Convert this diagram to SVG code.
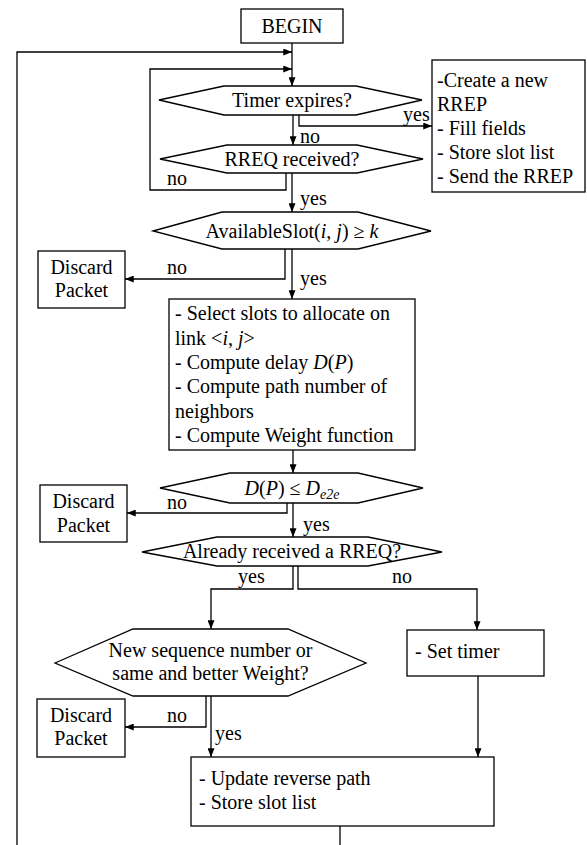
<svg xmlns="http://www.w3.org/2000/svg" width="587" height="845" viewBox="0 0 587 845">
<style>
.n{fill:#fff;stroke:#000;stroke-width:1.3}
.c{fill:none;stroke:#000;stroke-width:1.3}
text{font-family:"Liberation Serif","Times New Roman",serif;font-size:20px;fill:#000}
.m{text-anchor:middle}
.i{font-style:italic}
</style>
<defs>
<marker id="ah" viewBox="0 0 10 8" refX="10" refY="4" markerWidth="9" markerHeight="7" markerUnits="userSpaceOnUse" orient="auto"><path d="M0,0 L10,4 L0,8 z" fill="#000"/></marker>
</defs>
<rect width="587" height="845" fill="#fff"/>
<g id="connectors">
<path class="c" d="M292,43 V86" marker-end="url(#ah)"/>
<path class="c" d="M17,845 V52 H292" marker-end="url(#ah)"/>
<path class="c" d="M286,173 V190 H150 V69 H292" marker-end="url(#ah)"/>
<path class="c" d="M293,115 V145" marker-end="url(#ah)"/>
<path class="c" d="M299,115 V126 H432" marker-end="url(#ah)"/>
<path class="c" d="M292,173 V212" marker-end="url(#ah)"/>
<path class="c" d="M285,249 V279 H125" marker-end="url(#ah)"/>
<path class="c" d="M292,249 V299" marker-end="url(#ah)"/>
<path class="c" d="M293,450 V473" marker-end="url(#ah)"/>
<path class="c" d="M287,503 V513 H127" marker-end="url(#ah)"/>
<path class="c" d="M293,503 V537" marker-end="url(#ah)"/>
<path class="c" d="M293,566 V589 H211 V629" marker-end="url(#ah)"/>
<path class="c" d="M298,566 V589 H477 V630" marker-end="url(#ah)"/>
<path class="c" d="M206,696 V727 H125" marker-end="url(#ah)"/>
<path class="c" d="M211,696 V757" marker-end="url(#ah)"/>
<path class="c" d="M478,676 V757" marker-end="url(#ah)"/>
<path class="c" d="M340,826 V845"/>
<text x="300" y="143">no</text>
<text x="403" y="121">yes</text>
<text x="300" y="205">yes</text>
<text x="167" y="185">no</text>
<text x="167" y="274">no</text>
<text x="300" y="285">yes</text>
<text x="167" y="509">no</text>
<text x="303" y="531">yes</text>
<text x="238" y="583">yes</text>
<text x="392" y="583">no</text>
<text x="167" y="722">no</text>
<text x="215" y="740">yes</text>
</g>
<g id="begin">
<rect class="n" x="241" y="9" width="102" height="34"/>
<text class="m" x="292" y="33">BEGIN</text>
</g>
<g id="timer">
<polygon class="n" points="159,100 224,86 356,86 422,100 356,115 224,115"/>
<text class="m" x="292" y="107">Timer expires?</text>
</g>
<g id="rrep">
<rect class="n" x="432" y="60" width="153" height="132"/>
<text x="437" y="87">-Create a new</text>
<text x="437" y="111">RREP</text>
<text x="437" y="135">- Fill fields</text>
<text x="437" y="159">- Store slot list</text>
<text x="437" y="183">- Send the RREP</text>
</g>
<g id="rreq">
<polygon class="n" points="160,159 227,145 357,145 423,159 357,173 227,173"/>
<text class="m" x="292" y="166">RREQ received?</text>
</g>
<g id="available">
<polygon class="n" points="153,231 222,212 358,212 431,231 358,249 222,249"/>
<text class="m" x="292" y="238">AvailableSlot(<tspan class="i">i</tspan>, <tspan class="i">j</tspan>) ≥ <tspan class="i">k</tspan></text>
</g>
<g id="discard1">
<rect class="n" x="38" y="251" width="87" height="57"/>
<text class="m" x="81.5" y="274">Discard</text>
<text class="m" x="81.5" y="297">Packet</text>
</g>
<g id="select">
<rect class="n" x="169" y="299" width="246" height="151"/>
<text x="175" y="320">- Select slots to allocate on</text>
<text x="175" y="345">link &lt;<tspan class="i">i</tspan>, <tspan class="i">j</tspan>&gt;</text>
<text x="175" y="369">- Compute delay <tspan class="i">D</tspan>(<tspan class="i">P</tspan>)</text>
<text x="175" y="393">- Compute path number of</text>
<text x="175" y="418">neighbors</text>
<text x="175" y="442">- Compute Weight function</text>
</g>
<g id="delay">
<polygon class="n" points="160,488 230,473 358,473 423,488 358,503 230,503"/>
<text class="m" x="292" y="495"><tspan class="i">D</tspan>(<tspan class="i">P</tspan>) ≤ <tspan class="i">D</tspan><tspan class="i" font-size="14" dy="4">e2e</tspan></text>
</g>
<g id="discard2">
<rect class="n" x="40" y="485" width="87" height="57"/>
<text class="m" x="83.5" y="508">Discard</text>
<text class="m" x="83.5" y="532">Packet</text>
</g>
<g id="already">
<polygon class="n" points="142,552 217,537 368,537 442,552 368,566 217,566"/>
<text class="m" x="292" y="558">Already received a RREQ?</text>
</g>
<g id="newseq">
<polygon class="n" points="55,663 133,629 288,629 366,663 288,696 133,696"/>
<text class="m" x="210.5" y="657">New sequence number or</text>
<text class="m" x="210.5" y="680">same and better Weight?</text>
</g>
<g id="settimer">
<rect class="n" x="407" y="630" width="137" height="46"/>
<text x="415" y="658">- Set timer</text>
</g>
<g id="discard3">
<rect class="n" x="37" y="699" width="88" height="58"/>
<text class="m" x="81" y="722">Discard</text>
<text class="m" x="81" y="745">Packet</text>
</g>
<g id="update">
<rect class="n" x="191" y="757" width="303" height="69"/>
<text x="199" y="785">- Update reverse path</text>
<text x="199" y="809">- Store slot list</text>
</g>
</svg>
